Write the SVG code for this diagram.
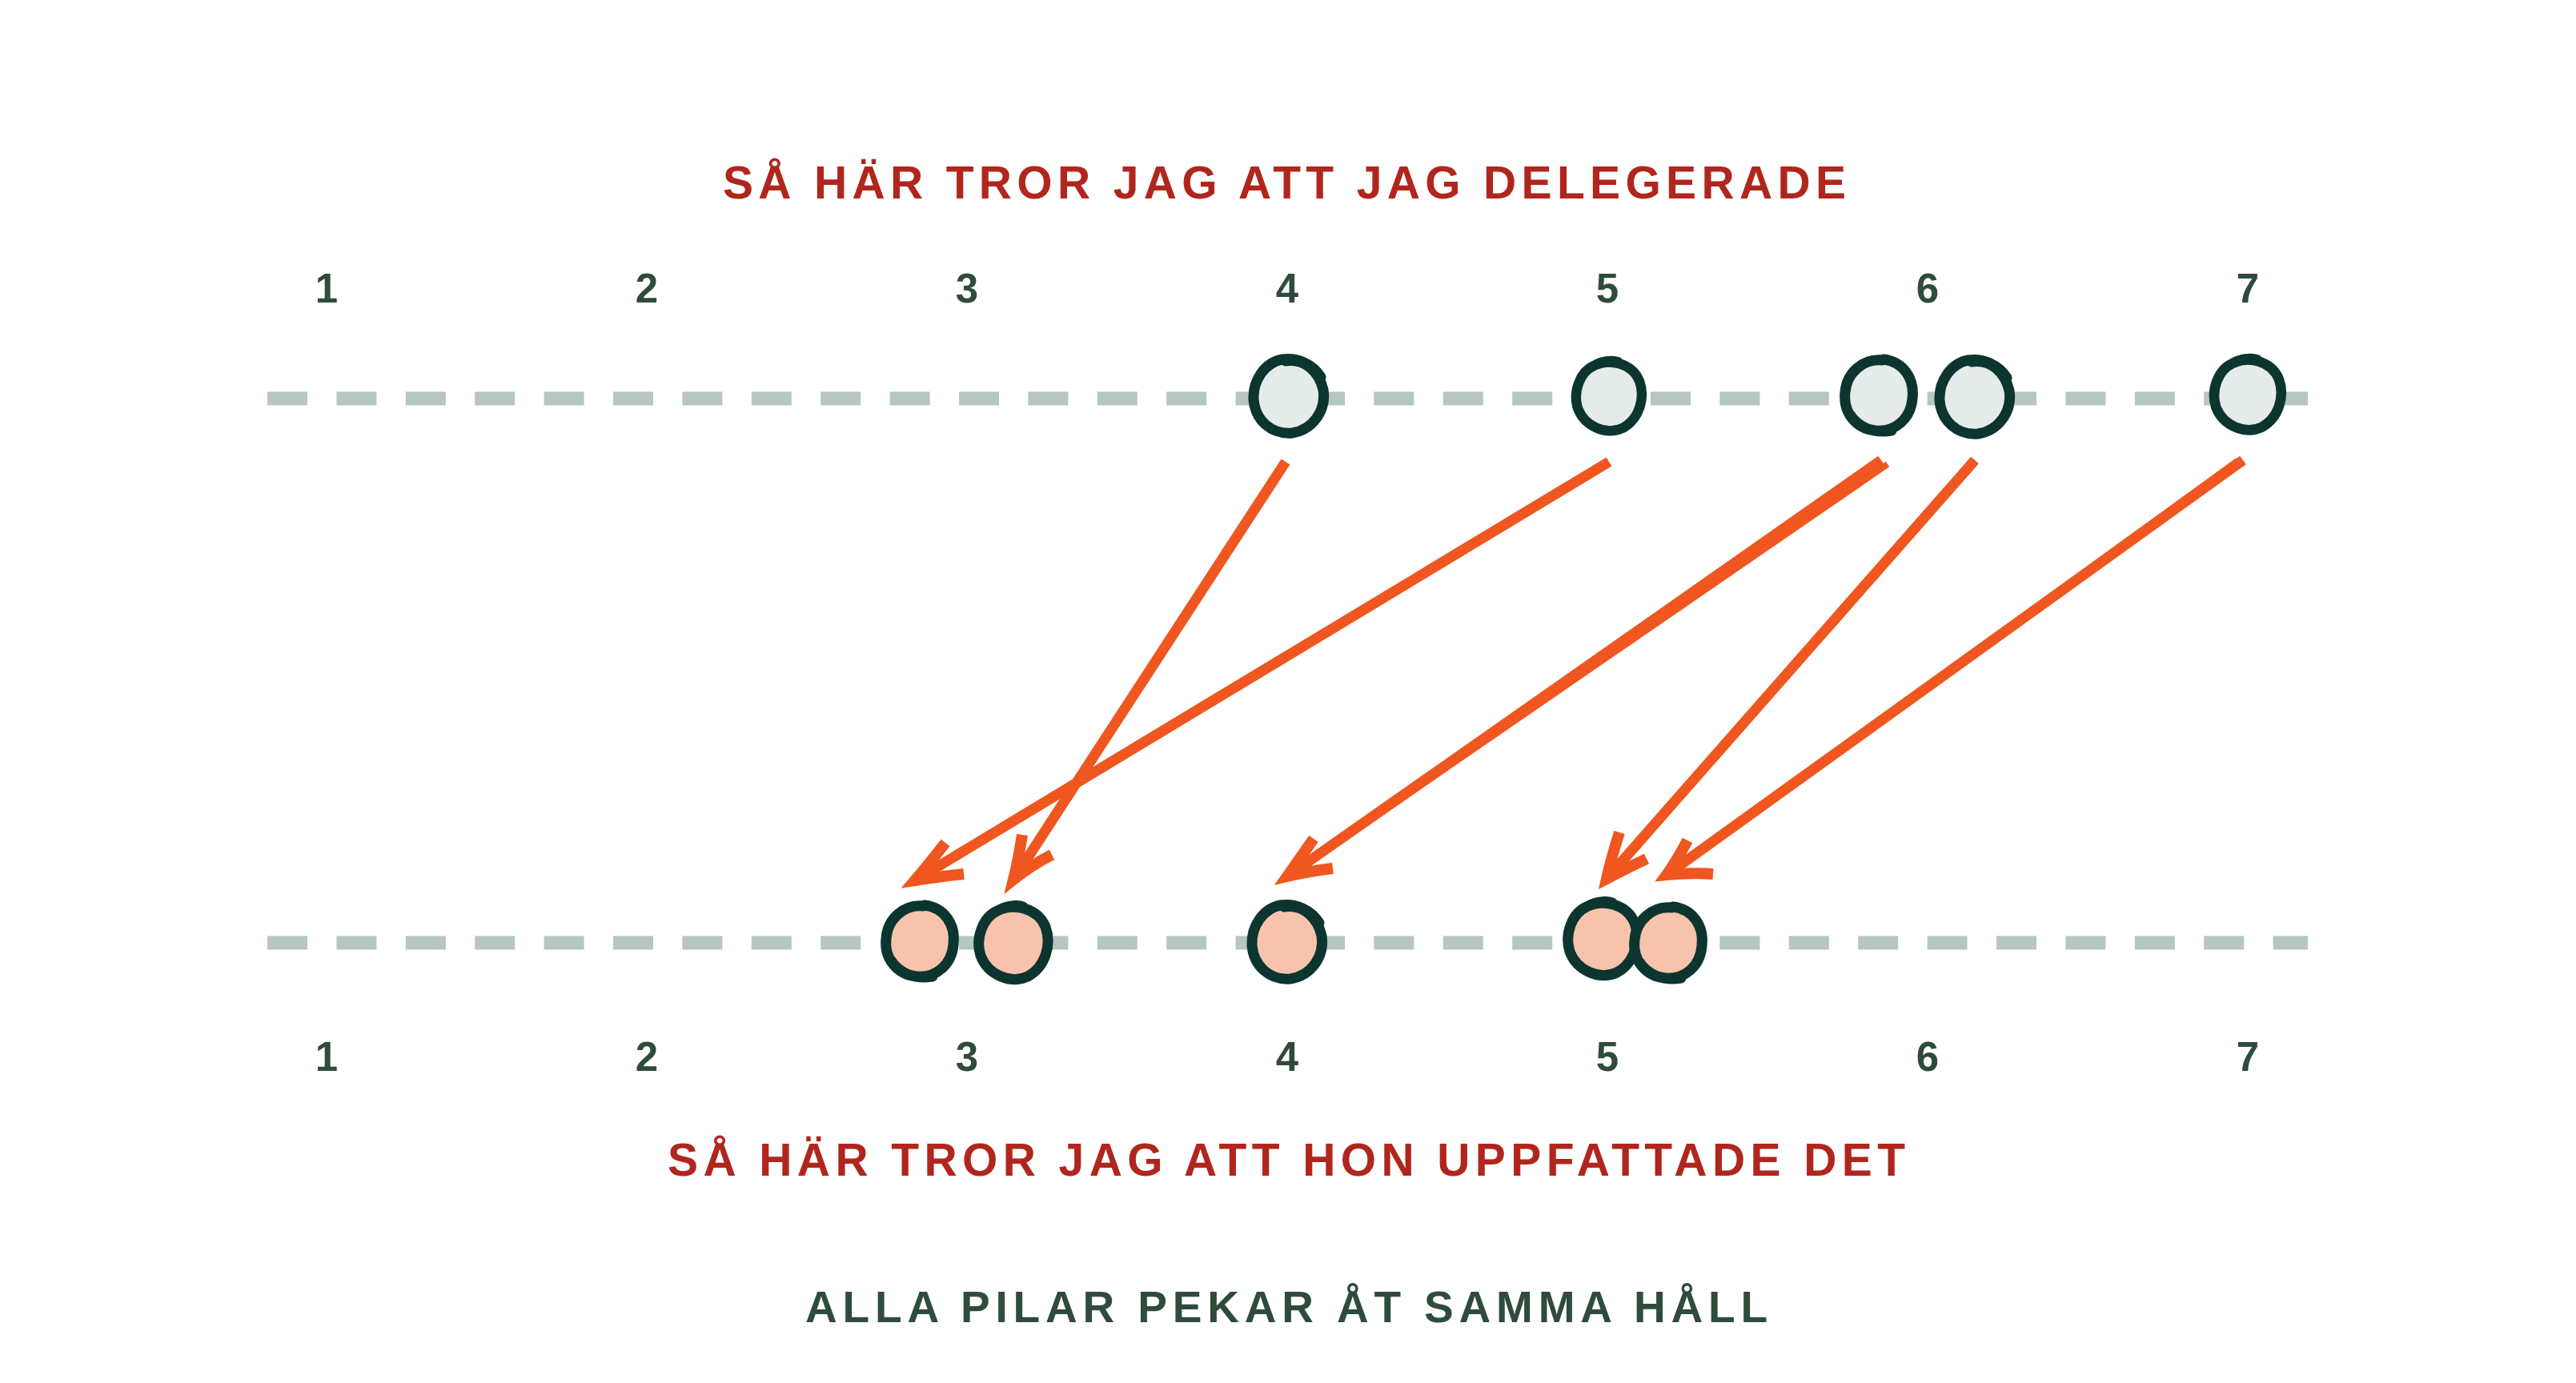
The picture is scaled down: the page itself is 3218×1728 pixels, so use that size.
<svg xmlns="http://www.w3.org/2000/svg" width="3218" height="1728" viewBox="0 0 3218 1728">
<style>
.title{font-family:"Liberation Sans",Arial,sans-serif;font-weight:bold;font-size:57px;fill:#b0261d}
.sub{font-family:"Liberation Sans",Arial,sans-serif;font-weight:bold;font-size:55px;fill:#2f4b3c}
.num{font-family:"Liberation Sans",Arial,sans-serif;font-weight:bold;font-size:51px;fill:#2f4b3c;text-anchor:middle}
.axis{stroke:#b6c6c1;stroke-width:17;fill:none;stroke-dasharray:50 36.4}
.ring{fill:none;stroke:#0c3530;stroke-width:13;stroke-linecap:round;stroke-linejoin:round}
.ring2{fill:none;stroke:#0c3530;stroke-width:7;stroke-linecap:round;stroke-linejoin:round}
.ftop{fill:#e5ebe8}
.fbot{fill:#f8c3ad}
.arr{fill:none;stroke:#f0561f;stroke-width:13;stroke-linecap:butt}
.arr2{fill:none;stroke:#f0561f;stroke-width:8;stroke-linecap:butt}
.head{fill:none;stroke:#f0561f;stroke-width:14;stroke-linecap:butt;stroke-linejoin:miter}
</style>
<defs>
<path id="s1" d="M -4,-44 C 20,-48 38,-30 43,-8 C 47,18 30,42 4,46 C -22,48 -42,30 -44,4 C -45,-20 -30,-42 -8,-46 C 10,-49 30,-40 40,-24"/>
<path id="s2" d="M 6,-45 C 30,-42 45,-22 42,4 C 40,28 22,46 -4,44 C -28,42 -45,22 -42,-4 C -40,-28 -20,-46 4,-44 M -36,24 C -26,40 -6,48 16,44"/>
<path id="s3" d="M -20,-40 C 0,-50 30,-44 40,-20 C 48,2 40,30 18,42 C -4,52 -32,40 -41,16 C -48,-6 -38,-32 -20,-40 C -10,-46 4,-48 12,-45"/>
<path id="t1" d="M -30,-34 C -14,-46 14,-48 32,-34 M 40,10 C 36,30 22,42 4,44"/>
<path id="t2" d="M 34,-30 C 44,-14 44,10 36,28 M -38,22 C -30,38 -14,46 4,46"/>
<ellipse id="blob" cx="0" cy="1" rx="39" ry="41"/>
</defs>

<g id="labels">
<text class="title" x="903" y="248" textLength="1403" lengthAdjust="spacing">SÅ HÄR TROR JAG ATT JAG DELEGERADE</text>
<text class="title" x="834" y="1469" textLength="1546" lengthAdjust="spacing">SÅ HÄR TROR JAG ATT HON UPPFATTADE DET</text>
<text class="sub" x="1006" y="1652" textLength="1202" lengthAdjust="spacing">ALLA PILAR PEKAR ÅT SAMMA HÅLL</text>
</g>

<g id="scale-top">
<text class="num" x="408" y="378">1</text>
<text class="num" x="808" y="378">2</text>
<text class="num" x="1208" y="378">3</text>
<text class="num" x="1608" y="378">4</text>
<text class="num" x="2008" y="378">5</text>
<text class="num" x="2408" y="378">6</text>
<text class="num" x="2808" y="378">7</text>
</g>
<g id="scale-bottom">
<text class="num" x="408" y="1338">1</text>
<text class="num" x="808" y="1338">2</text>
<text class="num" x="1208" y="1338">3</text>
<text class="num" x="1608" y="1338">4</text>
<text class="num" x="2008" y="1338">5</text>
<text class="num" x="2408" y="1338">6</text>
<text class="num" x="2808" y="1338">7</text>
</g>

<g id="axes">
<line class="axis" x1="334" y1="498" x2="2883" y2="498"/>
<line class="axis" x1="334" y1="1178" x2="2883" y2="1178"/>
</g>

<g id="top-4" transform="translate(1610,495)"><use href="#blob" class="ftop"/><use href="#s1" class="ring"/><use href="#t2" class="ring2" transform="rotate(8)"/></g>
<g id="top-5" transform="translate(2010,495) scale(0.95)"><use href="#blob" class="ftop"/><use href="#s3" class="ring"/><use href="#t1" class="ring2" transform="rotate(-10)"/></g>
<g id="top-6a" transform="translate(2347,494)"><use href="#blob" class="ftop"/><use href="#s2" class="ring"/><use href="#t1" class="ring2" transform="rotate(6)"/></g>
<g id="top-6b" transform="translate(2467,496)"><use href="#blob" class="ftop"/><use href="#s1" class="ring"/><use href="#t2" class="ring2" transform="rotate(-12)"/></g>
<g id="top-7" transform="translate(2808,493) scale(0.97)"><use href="#blob" class="ftop"/><use href="#s3" class="ring"/><use href="#t2" class="ring2" transform="rotate(15)"/></g>

<g id="bot-3a" transform="translate(1149,1176)"><use href="#blob" class="fbot"/><use href="#s2" class="ring"/><use href="#t1" class="ring2" transform="rotate(12)"/></g>
<g id="bot-3b" transform="translate(1266,1178)"><use href="#blob" class="fbot"/><use href="#s3" class="ring"/><use href="#t2" class="ring2" transform="rotate(-8)"/></g>
<g id="bot-4" transform="translate(1608,1177)"><use href="#blob" class="fbot"/><use href="#s1" class="ring"/><use href="#t2" class="ring2" transform="rotate(20)"/></g>
<g id="bot-5a" transform="translate(2002,1173)"><use href="#blob" class="fbot"/><use href="#s3" class="ring"/><use href="#t1" class="ring2" transform="rotate(-6)"/></g>
<g id="bot-5b" transform="translate(2084,1178)"><use href="#blob" class="fbot"/><use href="#s2" class="ring"/><use href="#t2" class="ring2" transform="rotate(10)"/></g>

<g id="connectors">
<path class="arr" d="M 1606,577 L 1266,1099"/>
<path class="head" d="M 1277,1043 Q 1272,1075 1266,1099 Q 1290,1080 1314,1068"/>

<path class="arr" d="M 2010,577 L 1143,1100"/>
<path class="arr2" d="M 2003,580 L 1150,1096"/>
<path class="head" d="M 1181,1053 Q 1160,1080 1143,1100 Q 1175,1095 1204,1092"/>

<path class="arr" d="M 2350,575 L 1608,1095"/>
<path class="arr2" d="M 2358,580 L 1614,1092"/>
<path class="head" d="M 1641,1048 Q 1622,1075 1608,1095 Q 1638,1088 1665,1085"/>

<path class="arr" d="M 2467,575 L 2007,1098"/>
<path class="head" d="M 2023,1040 Q 2012,1075 2007,1098 Q 2032,1085 2057,1073"/>

<path class="arr" d="M 2802,575 L 2082,1093"/>
<path class="arr2" d="M 2795,576 L 2087,1090"/>
<path class="head" d="M 2108,1050 Q 2095,1075 2082,1093 Q 2112,1090 2140,1092"/>
</g>
</svg>
